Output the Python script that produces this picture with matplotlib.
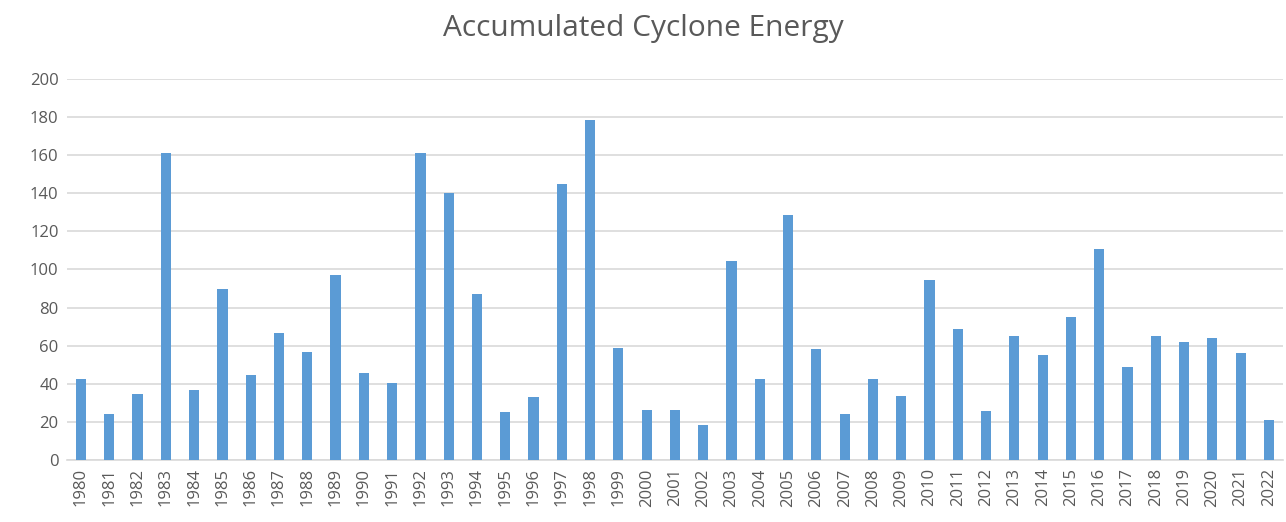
import matplotlib
matplotlib.use("Agg")
import matplotlib.pyplot as plt

# Accumulated Cyclone Energy per year
years = [str(y) for y in range(1980, 2023)]
ace = [42.6, 24, 34.6, 161, 36.7, 90, 44.6, 66.7, 56.7, 97,
       45.7, 40.4, 161, 140, 87, 25, 33, 145, 178.5, 59,
       26, 26, 18.4, 104.5, 42.5, 128.6, 58, 24, 42.5, 33.6,
       94.5, 69, 25.5, 65, 55, 75, 110.7, 49, 65, 62,
       64, 56, 21]
yticks = list(range(0, 201, 20))

plt.rcParams['font.family'] = ['Open Sans', 'DejaVu Sans']
text_color = '#595959'

fig = plt.figure(figsize=(12.86, 5.22), dpi=100)
ax = fig.add_axes([0.052, 0.1188, 0.9457, 0.7299])

x = range(len(years))
ax.bar(x, ace, width=0.36, color='#5B9BD5', zorder=3)

ax.set_xlim(-0.5, len(years) - 0.5)
ax.set_ylim(0, 200)
ax.set_yticks(yticks)
ax.set_yticklabels([str(t) for t in yticks], color=text_color, fontsize=12)
ax.set_xticks(list(x))
ax.set_xticklabels(years, rotation=90, color=text_color, fontsize=12)

ax.grid(axis='y', color='#D9D9D9', linewidth=1.2, zorder=0)
ax.tick_params(axis='both', length=0, pad=6)
for side in ['top', 'right', 'left']:
    ax.spines[side].set_visible(False)
ax.spines['bottom'].set_color('#D9D9D9')
ax.spines['bottom'].set_linewidth(1.2)

fig.text(0.5, 0.945, 'Accumulated Cyclone Energy', ha='center', va='center',
         fontsize=21.5, color=text_color)

fig.savefig('out.png', dpi=100)
